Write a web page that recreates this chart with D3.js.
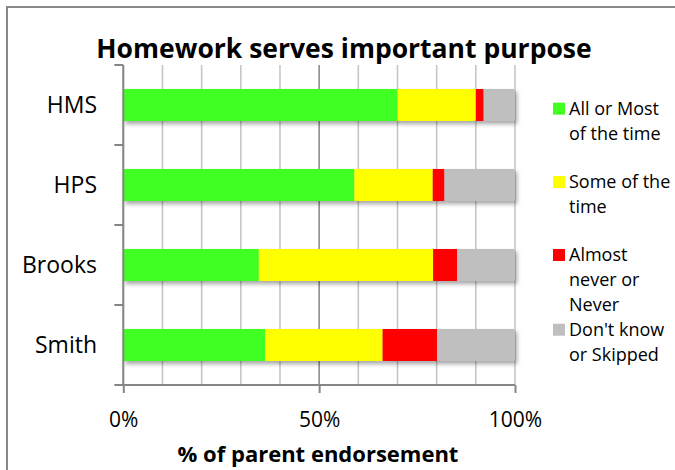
<!DOCTYPE html>
<html>
<head>
<meta charset="utf-8">
<script src="https://cdn.jsdelivr.net/npm/d3@7"></script>
<style>
  html, body { margin: 0; padding: 0; background: #fff; }
  svg { display: block; }
  text { font-family: "Open Sans", "Liberation Sans", sans-serif; fill: #000; }
</style>
</head>
<body>
<svg id="chart" width="675" height="470"></svg>
<script>
const categories = ["HMS", "HPS", "Brooks", "Smith"];
const seriesNames = ["All or Most of the time", "Some of the time", "Almost never or Never", "Don't know or Skipped"];
const legendLines = [["All or Most", "of the time"], ["Some of the", "time"], ["Almost", "never or", "Never"], ["Don't know", "or Skipped"]];
const allOrMost = [70, 59, 34.6, 36.2];
const someOfTime = [20, 20, 44.5, 30];
const almostNever = [2, 3, 6.1, 13.9];
const dontKnow = [8, 18, 14.8, 19.9];
const xTicks = [0, 50, 100];
const gridTicks = [0, 10, 20, 30, 40, 50, 60, 70, 80, 90, 100];
const colors = ["#41ff21", "#ffff00", "#ff0000", "#bfbfbf"];
const title = "Homework serves important purpose";
const xTitle = "% of parent endorsement";

const svg = d3.select("#chart");

// defs: drop shadow
const defs = svg.append("defs");
const f = defs.append("filter").attr("id", "shadow").attr("x", "-5%").attr("y", "-20%").attr("width", "115%").attr("height", "160%");
f.append("feDropShadow").attr("dx", 2).attr("dy", 3).attr("stdDeviation", 2).attr("flood-color", "#000").attr("flood-opacity", 0.35);

// outer frame
svg.append("path").attr("d", "M7,470 L7,7 L675,7").attr("fill", "none").attr("stroke", "#888").attr("stroke-width", 2);

const x = d3.scaleLinear().domain([0, 100]).range([123.3, 515]);
const y = d3.scaleBand().domain(categories).range([65, 385]).paddingInner(0.6).paddingOuter(0.3);

// gridlines
svg.append("g").selectAll("line").data(gridTicks).join("line")
  .attr("x1", d => x(d)).attr("x2", d => x(d))
  .attr("y1", 65).attr("y2", 385)
  .attr("stroke", d => (d === 50) ? "#868686" : "#c4c4c4")
  .attr("stroke-width", 1.5);

// stacked data
const rows = categories.map((c, i) => ({
  cat: c,
  s0: allOrMost[i], s1: someOfTime[i], s2: almostNever[i], s3: dontKnow[i]
}));
const stack = d3.stack().keys(["s0", "s1", "s2", "s3"]);
const layers = stack(rows);

const barsG = svg.append("g").attr("filter", "url(#shadow)");
layers.forEach((layer, li) => {
  barsG.append("g").attr("fill", colors[li])
    .selectAll("rect").data(layer).join("rect")
    .attr("x", d => x(d[0]))
    .attr("width", d => x(d[1]) - x(d[0]))
    .attr("y", d => y(d.data.cat))
    .attr("height", y.bandwidth());
});

// bottom axis
const xAxis = d3.axisBottom(x).tickValues(xTicks).tickSize(8).tickFormat(d => d + "%");
const gx = svg.append("g").attr("transform", "translate(0,385)").call(xAxis);
gx.select(".domain").attr("stroke", "#868686").attr("stroke-width", 2).attr("d", `M${x(0)},0H${x(100)}`);
gx.selectAll(".tick line").attr("stroke", "#868686").attr("stroke-width", 2);
gx.selectAll(".tick text").attr("font-size", 21).attr("y", 42).attr("dy", 0)
  .style("font-family", "'Open Sans', sans-serif").attr("fill", "#000");

// left axis with ticks at band boundaries
const step = y.step();
const bounds = [y(categories[0]) - step * 0.3].concat(categories.map(c => y(c) - step * 0.3 + step));
svg.append("line").attr("x1", x(0)).attr("x2", x(0)).attr("y1", 65).attr("y2", 386)
  .attr("stroke", "#868686").attr("stroke-width", 2);
svg.append("g").selectAll("line").data(bounds).join("line")
  .attr("x1", x(0) - 9).attr("x2", x(0)).attr("y1", d => d).attr("y2", d => d)
  .attr("stroke", "#868686").attr("stroke-width", 2);
svg.append("g").selectAll("text").data(categories).join("text")
  .attr("x", 97).attr("y", d => y(d) + y.bandwidth() / 2 + 8)
  .attr("text-anchor", "end").attr("font-size", 23).text(d => d);

// title
svg.append("text").attr("x", 344).attr("y", 58).attr("text-anchor", "middle")
  .attr("font-size", 26.5).attr("font-weight", "bold").text(title);

// x title
svg.append("text").attr("x", 318).attr("y", 462).attr("text-anchor", "middle")
  .attr("font-size", 22).attr("font-weight", "bold").text(xTitle);

// legend
const legendTops = [102.7, 176, 249, 323.7];
const lg = svg.append("g");
seriesNames.forEach((name, i) => {
  lg.append("rect").attr("x", 553).attr("y", legendTops[i]).attr("width", 12).attr("height", 12).attr("fill", colors[i]);
  const t = lg.append("text").attr("x", 569).attr("y", legendTops[i] + 12).attr("font-size", 18);
  legendLines[i].forEach((ln, j) => {
    t.append("tspan").attr("x", 569).attr("dy", j === 0 ? 0 : 25).text(ln);
  });
});
</script>
</body>
</html>
